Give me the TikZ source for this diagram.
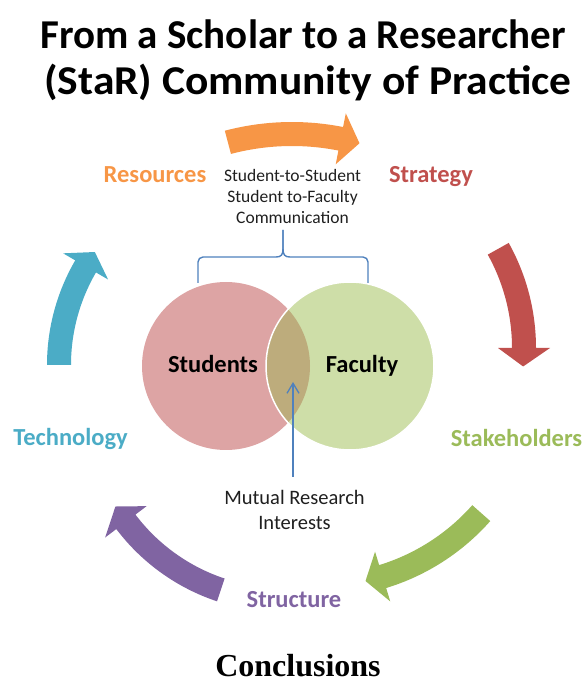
\documentclass[tikz,border=0pt]{standalone}
\usepackage{fontspec}
\setmainfont{Carlito}
\newfontfamily\timesfont{Liberation Serif}
\usetikzlibrary{calc,arrows.meta}
\definecolor{corange}{RGB}{247,150,70}
\definecolor{cred}{RGB}{192,80,77}
\definecolor{cgreen}{RGB}{155,187,89}
\definecolor{cpurple}{RGB}{128,100,162}
\definecolor{ccyan}{RGB}{75,172,198}
\definecolor{cpink}{RGB}{221,164,164}
\definecolor{clgreen}{RGB}{206,222,168}
\definecolor{colive}{RGB}{189,172,124}
\definecolor{cblue}{RGB}{79,129,189}
\newcommand{\cycarrow}[7]{%
  \fill[#1] ($(#2,#3)+({#5}:{#4+12})$) arc[start angle={#5}, end angle={#6}, radius={#4+12}]
    -- ($(#2,#3)+({#6}:{#4+26})$) -- ($(#2,#3)+({#7}:{#4})$) -- ($(#2,#3)+({#6}:{#4-26})$)
    -- ($(#2,#3)+({#6}:{#4-12})$) arc[start angle={#6}, end angle={#5}, radius={#4-12}] -- cycle;}
\tikzset{
  lab/.style={font=\fontsize{24.5}{29}\selectfont\bfseries, anchor=base, inner sep=0pt},
  small/.style={font=\fontsize{17.5}{21}\selectfont, align=center, text=black!88, inner sep=0pt},
  bracket/.style={draw=cblue, line width=1.4pt, line join=round},
  titlefont/.style={font=\fontsize{41}{46}\selectfont\bfseries, anchor=base, inner sep=0pt},
}
\begin{document}
\begin{tikzpicture}[x=1pt,y=1pt]
\useasboundingbox (0,0) rectangle (585,683);
% title
\node[titlefont] (title1) at (303,634) {From a Scholar to a Researcher};
\node[titlefont] (title2) at (308,588) {\scalebox{1.06}[1]{(StaR) Community of Practice}};
% cycle arrows
\cycarrow{corange}{292}{298}{251}{104.8}{78.8}{74.4}
\cycarrow{cred}{320}{335}{204}{29.1}{0}{-5.2}
\cycarrow{cgreen}{319.5}{313}{216}{-41.5}{-73}{-77.7}
\cycarrow{cpurple}{283}{280}{197}{251.6}{217.1}{211.7}
\cycarrow{ccyan}{255}{318}{196}{180}{149.8}{144.8}
% labels
\node[lab, text=corange] (res) at (155,500) {Resources};
\node[lab, text=cred] (strat) at (431,500) {Strategy};
\node[lab, text=cgreen] (stake) at (516.5,236) {Stakeholders};
\node[lab, text=ccyan] (tech) at (70.5,237) {Technology};
\node[lab, text=cpurple] (struc) at (294,75) {Structure};
% venn
\node[circle, fill=cpink, minimum size=168pt, inner sep=0pt] (stud) at (226,317) {};
\node[circle, fill=clgreen, minimum size=168pt, inner sep=0pt] (fac) at (350,317) {};
\begin{scope}
  \clip (226,317) circle (84);
  \fill[colive] (350,317) circle (84);
\end{scope}
\draw[white, line width=1.5pt] (350,317) circle (84);
\node[lab, text=black] (studl) at (213,310) {Students};
\node[lab, text=black] (facl) at (362,310) {Faculty};
% communication text and bracket
\node[small] (comm) at (292.5,487) {Student-to-Student\\Student to-Faculty\\Communication};
\coordinate (bl) at (198,400);
\coordinate (br) at (368,400);
\coordinate (btip) at (283,453);
\draw[bracket] (bl) -- (198,421) arc[start angle=180, end angle=90, radius=5] -- (276,426)
  .. controls (281,426) and (283,428) .. (283,434) -- (btip);
\draw[bracket] (br) -- (368,421) arc[start angle=0, end angle=90, radius=5] -- (290,426)
  .. controls (285,426) and (283,428) .. (283,434) -- (btip);
% mutual interests
\node[small, font=\fontsize{20.5}{25}\selectfont] (mutual) at (294.5,173) {Mutual Research\\Interests};
\coordinate (ovl) at (293,301);
\coordinate (mbot) at (293,206);
\draw[cblue, line width=1.3pt, -{Straight Barb[length=10pt,width=12pt]}] (mbot) -- (ovl);
% conclusions
\node[font=\timesfont\bfseries\fontsize{32}{38}\selectfont, anchor=base, inner sep=0pt] (concl) at (298,6) {Conclusions};
\end{tikzpicture}
\end{document}
